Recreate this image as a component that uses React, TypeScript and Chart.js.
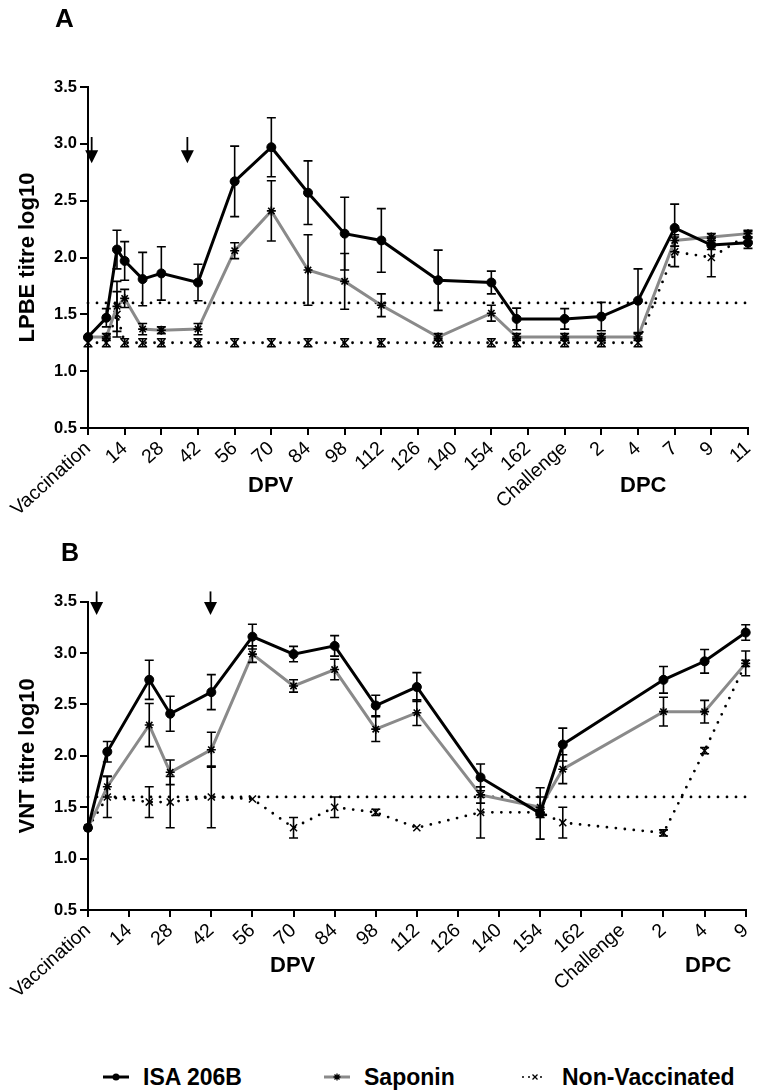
import React, { useEffect, useRef } from "react";
import { Chart, registerables } from "chart.js";
Chart.register(...registerables);

const FONT = "'Liberation Sans', Arial, Helvetica, sans-serif";

// ---------- Panel A (LPBE) ----------
const labelsA = ["Vaccination", "14", "28", "42", "56", "70", "84", "98", "112", "126", "140", "154", "162", "Challenge", "2", "4", "7", "9", "11"];
const xA = [0, 0.5, 0.79, 1, 1.49, 2, 3, 4, 5, 6, 7, 8, 9.55, 11, 11.69, 13, 14, 15, 16, 17, 18];
const isaA = [1.30, 1.47, 2.07, 1.97, 1.81, 1.86, 1.78, 2.67, 2.97, 2.57, 2.21, 2.15, 1.80, 1.78, 1.46, 1.46, 1.48, 1.62, 2.26, 2.11, 2.13];
const isaErrA = [0, 0.08, 0.17, 0.17, 0.235, 0.235, 0.16, 0.31, 0.26, 0.28, 0.32, 0.28, 0.265, 0.10, 0.095, 0.09, 0.125, 0.28, 0.21, 0.04, 0.05];
const sapA = [1.30, 1.30, 1.57, 1.64, 1.37, 1.36, 1.37, 2.06, 2.41, 1.89, 1.79, 1.58, 1.30, 1.51, 1.30, 1.30, 1.30, 1.30, 2.15, 2.18, 2.21];
const sapErrA = [0, 0.03, 0.22, 0.08, 0.05, 0.03, 0.05, 0.07, 0.265, 0.31, 0.245, 0.10, 0.03, 0.07, 0.03, 0.03, 0.03, 0.03, 0.05, 0.03, 0.03];
const nvA = [1.25, 1.25, 1.50, 1.25, 1.25, 1.25, 1.25, 1.25, 1.25, 1.25, 1.25, 1.25, 1.25, 1.25, 1.25, 1.25, 1.25, 1.25, 2.05, 2.00, 2.20];
const nvErrA = [0.035, 0.035, 0.2, 0.035, 0.035, 0.035, 0.035, 0.035, 0.035, 0.035, 0.035, 0.035, 0.035, 0.035, 0.035, 0.035, 0.035, 0.035, 0.13, 0.17, 0.03];
const arrowsA = [
  { x: 0.1, top: 3.06, tip: 2.83 },
  { x: 2.71, top: 3.06, tip: 2.83 },
];

// ---------- Panel B (VNT) ----------
const labelsB = ["Vaccination", "14", "28", "42", "56", "70", "84", "98", "112", "126", "140", "154", "162", "Challenge", "2", "4", "9"];
const xB = [0, 0.47, 1.49, 2, 3, 4, 5, 6, 7, 8, 9.55, 11, 11.55, 14, 15, 16];
const isaB = [1.30, 2.04, 2.74, 2.41, 2.62, 3.16, 2.99, 3.07, 2.49, 2.67, 1.79, 1.44, 2.11, 2.74, 2.92, 3.20];
const isaErrB = [0, 0.10, 0.19, 0.17, 0.17, 0.12, 0.075, 0.10, 0.10, 0.14, 0.13, 0.25, 0.16, 0.13, 0.115, 0.075];
const sapB = [1.30, 1.70, 2.30, 1.84, 2.06, 2.99, 2.68, 2.84, 2.26, 2.42, 1.62, 1.50, 1.87, 2.43, 2.43, 2.90];
const sapErrB = [0, 0.10, 0.21, 0.12, 0.17, 0.08, 0.06, 0.10, 0.12, 0.125, 0.08, 0.10, 0.14, 0.14, 0.11, 0.12];
const nvB = [1.30, 1.60, 1.55, 1.55, 1.60, 1.58, 1.30, 1.50, 1.45, 1.30, 1.45, 1.45, 1.35, 1.25, 2.05, 2.90];
const nvErrB = [0, 0.20, 0.15, 0.25, 0.30, 0, 0.10, 0.10, 0.03, 0, 0.25, 0.03, 0.15, 0.03, 0.03, 0.03];
const arrowsB = [
  { x: 0.21, top: 3.6, tip: 3.37 },
  { x: 2.98, top: 3.6, tip: 3.37 },
];

const threshold = 1.6;
const yTicks = [0.5, 1.0, 1.5, 2.0, 2.5, 3.0, 3.5];

const errorBarPlugin = {
  id: "errorBars",
  afterDatasetsDraw(chart: any, _a: any, opts: any) {
    const errs: number[][] = opts.errors || [];
    const { ctx } = chart;
    const xs = chart.scales.x, ys = chart.scales.y;
    ctx.save();
    ctx.strokeStyle = "#000";
    ctx.lineWidth = 1.6;
    chart.data.datasets.forEach((ds: any, i: number) => {
      const e = errs[i];
      if (!e) return;
      ds.data.forEach((p: any, j: number) => {
        const err = e[j];
        if (!err) return;
        const x = xs.getPixelForValue(p.x);
        const y1 = ys.getPixelForValue(p.y + err);
        const y2 = ys.getPixelForValue(p.y - err);
        ctx.beginPath();
        ctx.moveTo(x, y1); ctx.lineTo(x, y2);
        ctx.moveTo(x - 4.5, y1); ctx.lineTo(x + 4.5, y1);
        ctx.moveTo(x - 4.5, y2); ctx.lineTo(x + 4.5, y2);
        ctx.stroke();
      });
    });
    ctx.restore();
  },
};

const arrowPlugin = {
  id: "arrows",
  afterDraw(chart: any, _a: any, opts: any) {
    const items = opts.items || [];
    const { ctx } = chart;
    const xs = chart.scales.x, ys = chart.scales.y;
    ctx.save();
    ctx.strokeStyle = "#000";
    ctx.fillStyle = "#000";
    ctx.lineWidth = 1.8;
    items.forEach((a: any) => {
      const x = xs.getPixelForValue(a.x);
      const yTop = ys.getPixelForValue(a.top);
      const yTip = ys.getPixelForValue(a.tip);
      const headLen = 13, headW = 6.5;
      ctx.beginPath();
      ctx.moveTo(x, yTop); ctx.lineTo(x, yTip - headLen + 1);
      ctx.stroke();
      ctx.beginPath();
      ctx.moveTo(x - headW, yTip - headLen);
      ctx.lineTo(x + headW, yTip - headLen);
      ctx.lineTo(x, yTip);
      ctx.closePath();
      ctx.fill();
    });
    ctx.restore();
  },
};

function pts(xs: number[], ys: number[]) {
  return xs.map((x, i) => ({ x, y: ys[i] }));
}

function makeConfig(p: any): any {
  const maxX = p.labels.length - 1;
  return {
    type: "line",
    data: {
      datasets: [
        {
          label: "ISA 206B",
          data: pts(p.x, p.isa),
          borderColor: "#000",
          backgroundColor: "#000",
          borderWidth: 3,
          pointStyle: "circle",
          pointRadius: 4.5,
          pointBorderWidth: 1,
          tension: 0,
          clip: false,
        },
        {
          label: "Saponin",
          data: pts(p.x, p.sap),
          borderColor: "#8a8a8a",
          backgroundColor: "#000",
          pointBorderColor: "#000",
          borderWidth: 3,
          pointStyle: "star",
          pointRadius: 4.5,
          pointBorderWidth: 1.6,
          tension: 0,
          clip: false,
        },
        {
          label: "Non-Vaccinated",
          data: pts(p.x, p.nv),
          borderColor: "#000",
          backgroundColor: "#000",
          borderWidth: 2.8,
          borderDash: [0, 9],
          borderCapStyle: "round",
          pointStyle: "crossRot",
          pointRadius: 5,
          pointBorderWidth: 1.5,
          tension: 0,
          clip: false,
        },
        {
          label: "threshold",
          data: [{ x: 0, y: threshold }, { x: maxX, y: threshold }],
          borderColor: "#000",
          borderWidth: 2.8,
          borderDash: [0, 9],
          borderCapStyle: "round",
          pointRadius: 0,
          tension: 0,
          clip: false,
        },
      ],
    },
    options: {
      responsive: false,
      animation: false,
      events: [],
      layout: { padding: { left: 0, right: p.padRight, top: p.padTop, bottom: 0 } },
      plugins: {
        legend: { display: false },
        tooltip: { enabled: false },
        errorBars: { errors: [p.isaErr, p.sapErr, p.nvErr] },
        arrows: { items: p.arrows },
      },
      scales: {
        x: {
          type: "linear",
          min: 0,
          max: maxX,
          afterBuildTicks: (s: any) => {
            s.ticks = p.labels.map((_: string, i: number) => ({ value: i }));
          },
          ticks: {
            autoSkip: false,
            maxRotation: 42,
            minRotation: 42,
            padding: 2,
            color: "#000",
            font: { family: FONT, size: 19.5 },
            callback: (_v: any, i: number) => p.labels[i],
          },
          grid: { display: true, drawOnChartArea: false, drawTicks: true, tickLength: 7, color: "#000", lineWidth: 2 },
          border: { display: true, color: "#000", width: 2 },
          afterFit: (s: any) => {
            s.height = p.xHeight;
            s.paddingLeft = 0;
            s.paddingRight = 0;
          },
        },
        y: {
          type: "linear",
          min: 0.5,
          max: 3.5,
          afterBuildTicks: (s: any) => {
            s.ticks = yTicks.map((v) => ({ value: v }));
          },
          ticks: {
            padding: 3,
            color: "#000",
            font: { family: FONT, size: 16.5, weight: "bold" },
            callback: (v: any) => Number(v).toFixed(1),
          },
          grid: { display: true, drawOnChartArea: false, drawTicks: true, tickLength: 8, color: "#000", lineWidth: 2 },
          border: { display: true, color: "#000", width: 2 },
          title: {
            display: true,
            text: p.yTitle,
            color: "#000",
            font: { family: FONT, size: 22, weight: "bold" },
            padding: { top: 15, bottom: 0 },
          },
          afterFit: (s: any) => {
            s.width = 88;
            s.paddingTop = 0;
            s.paddingBottom = 0;
          },
        },
      },
    },
    plugins: [errorBarPlugin, arrowPlugin],
  };
}

function Panel({ cfg, top, height }: { cfg: any; top: number; height: number }) {
  const ref = useRef<HTMLCanvasElement>(null);
  useEffect(() => {
    const chart = new Chart(ref.current as HTMLCanvasElement, makeConfig(cfg));
    return () => chart.destroy();
  }, []);
  return (
    <canvas
      ref={ref}
      width={758}
      height={height}
      style={{ position: "absolute", left: 0, top, width: 758, height }}
    />
  );
}

const cfgA = {
  labels: labelsA, x: xA, isa: isaA, isaErr: isaErrA, sap: sapA, sapErr: sapErrA, nv: nvA, nvErr: nvErrA,
  arrows: arrowsA, xHeight: 102, padTop: 87, padRight: 10, yTitle: "LPBE titre log10",
};
const cfgB = {
  labels: labelsB, x: xB, isa: isaB, isaErr: isaErrB, sap: sapB, sapErr: sapErrB, nv: nvB, nvErr: nvErrB,
  arrows: arrowsB, xHeight: 130, padTop: 71.7, padRight: 12.3, yTitle: "VNT titre log10",
};

const textStyle = (left: number, top: number, size: number): React.CSSProperties => ({
  position: "absolute", left, top, fontFamily: FONT, fontWeight: "bold", fontSize: size, lineHeight: 1, color: "#000", whiteSpace: "nowrap",
});

function LegendItem({ left, kind, text }: { left: number; kind: string; text: string }) {
  return (
    <div style={{ position: "absolute", left, top: 1062, height: 30, display: "flex", alignItems: "center" }}>
      <svg width={26} height={12} style={{ marginRight: 14 }}>
        {kind === "isa" && (
          <g>
            <line x1={0} y1={6} x2={26} y2={6} stroke="#000" strokeWidth={3} />
            <circle cx={13} cy={6} r={3.5} fill="#000" />
          </g>
        )}
        {kind === "sap" && (
          <g>
            <line x1={0} y1={6} x2={26} y2={6} stroke="#8a8a8a" strokeWidth={3} />
            <path d="M13 2.5 V9.5 M9.5 6 H16.5 M10.5 3.5 L15.5 8.5 M15.5 3.5 L10.5 8.5" stroke="#000" strokeWidth={1.3} />
          </g>
        )}
        {kind === "nv" && (
          <g>
            <line x1={1} y1={6} x2={25} y2={6} stroke="#000" strokeWidth={2} strokeDasharray="0 6" strokeLinecap="round" />
            <path d="M10.5 3.5 L15.5 8.5 M15.5 3.5 L10.5 8.5" stroke="#000" strokeWidth={1.3} />
          </g>
        )}
      </svg>
      <span style={{ fontFamily: FONT, fontWeight: "bold", fontSize: 23, color: "#000" }}>{text}</span>
    </div>
  );
}

export default function App() {
  return (
    <div style={{ position: "absolute", left: 0, top: 0, width: 758, height: 1091, background: "#fff", overflow: "hidden" }}>
      <Panel cfg={cfgA} top={0} height={530} />
      <Panel cfg={cfgB} top={530} height={510} />
      <div style={textStyle(55, 4.6, 26)}>A</div>
      <div style={textStyle(61, 539.7, 25)}>B</div>
      <div style={textStyle(248, 474, 22)}>DPV</div>
      <div style={textStyle(620, 474, 22)}>DPC</div>
      <div style={textStyle(270, 954, 22)}>DPV</div>
      <div style={textStyle(685, 954, 22)}>DPC</div>
      <LegendItem left={103} kind="isa" text="ISA 206B" />
      <LegendItem left={324} kind="sap" text="Saponin" />
      <LegendItem left={522} kind="nv" text="Non-Vaccinated" />
    </div>
  );
}
